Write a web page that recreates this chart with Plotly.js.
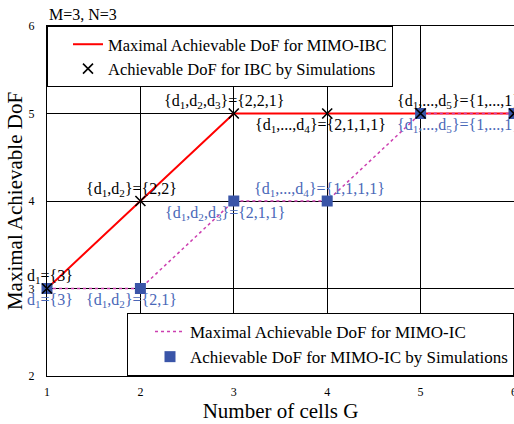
<!DOCTYPE html>
<html><head><meta charset="utf-8">
<script src="https://cdn.plot.ly/plotly-3.0.1.min.js"></script>
<style>body{margin:0;padding:0;background:#fff}#chart{width:514px;height:424px}</style>
</head><body><div id="chart"></div>
<script>
const cells = [1, 2, 3, 4, 5, 6];
const ibcMax = [3, 4, 5, 5, 5, 5];
const ibcSim = [3, 4, 5, 5, 5, 5];
const icMax = [3, 3, 4, 4, 5, 5];
const icSim = [3, 3, 4, 4, 5, 5];
const ibcLabels = ['d<sub>1</sub>={3}', '{d<sub>1</sub>,d<sub>2</sub>}={2,2}', '{d<sub>1</sub>,d<sub>2</sub>,d<sub>3</sub>}={2,2,1}', '{d<sub>1</sub>,...,d<sub>4</sub>}={2,1,1,1}', '{d<sub>1</sub>,...,d<sub>5</sub>}={1,...,1}', ''];
const icLabels = ['d<sub>1</sub>={3}', '{d<sub>1</sub>,d<sub>2</sub>}={2,1}', '{d<sub>1</sub>,d<sub>2</sub>,d<sub>3</sub>}={2,1,1}', '{d<sub>1</sub>,...,d<sub>4</sub>}={1,1,1,1}', '{d<sub>1</sub>,...,d<sub>5</sub>}={1,...,1}', ''];

const F = '"Liberation Serif", "Times New Roman", serif';
const blue = '#3a55a8';
const blueText = '#4a68b8';

const traces = [
  {x: cells, y: ibcMax, mode: 'lines', name: 'Maximal Achievable DoF for MIMO-IBC',
   line: {color: '#ff0000', width: 2}, legend: 'legend', cliponaxis: false},
  {x: cells, y: icMax, mode: 'lines', name: 'Maximal Achievable DoF for MIMO-IC',
   line: {color: '#cc3fb0', width: 1.5, dash: 'dot'}, legend: 'legend2', cliponaxis: false},
  {x: cells, y: icSim, mode: 'markers', name: 'Achievable DoF for MIMO-IC by Simulations',
   marker: {symbol: 'square', size: 11, color: blue}, legend: 'legend2', cliponaxis: false},
  {x: cells, y: ibcSim, mode: 'markers', name: 'Achievable DoF for IBC by Simulations',
   marker: {symbol: 'x-thin', size: 10, line: {color: '#000', width: 1.6}, color: '#000'}, legend: 'legend', cliponaxis: false}
];

// label placement: [xshift, above?, anchorLeft?]
const ibcPlace = [[3, 1, 0], [-9, 1, 0], [-9, 1, 0], [-7, -1, 0], [-26, 1, 1], null];
const icPlace = [[3, -1, 0], [-9, -1, 0], [-8, -1, 0], [-8, 1, 0], [-26, -1, 1], null];

const annotations = [];
function addLabels(labels, ys, place, color) {
  labels.forEach((t, i) => {
    if (!t || !place[i]) return;
    const p = place[i];
    annotations.push({x: cells[i], y: ys[i], xref: 'x', yref: 'y', text: t, showarrow: false,
      xanchor: p[2] ? 'left' : 'center', yanchor: 'middle', xshift: p[0], yshift: p[1] * 12,
      font: {family: F, size: 16, color: color}});
  });
}
addLabels(ibcLabels, ibcSim, ibcPlace, '#000');
addLabels(icLabels, icSim, icPlace, blueText);
annotations.push({xref: 'paper', yref: 'paper', x: 0, y: 1, xanchor: 'left', yanchor: 'bottom',
  yshift: 1, text: 'M=3, N=3', showarrow: false, font: {family: F, size: 16, color: '#000'}});

const layout = {
  width: 514, height: 424,
  margin: {l: 47, r: 0, t: 26, b: 48},
  paper_bgcolor: '#fff', plot_bgcolor: '#fff',
  font: {family: F, color: '#000'},
  xaxis: {range: [1, 6], dtick: 1, tick0: 1, showgrid: true, gridcolor: '#000', gridwidth: 1,
    zeroline: false, showline: true, linecolor: '#000', mirror: true, ticks: '',
    ticklabeloverflow: 'allow', ticklabelstandoff: 5,
    tickfont: {family: F, size: 12}, title: {text: 'Number of cells G', font: {family: F, size: 21}, standoff: 4}},
  yaxis: {range: [2, 6], dtick: 1, showgrid: true, gridcolor: '#000', gridwidth: 1,
    zeroline: false, showline: true, linecolor: '#000', mirror: true, ticks: '',
    ticklabeloverflow: 'allow', ticklabelstandoff: 9,
    tickfont: {family: F, size: 12}, title: {text: 'Maximal Achievable DoF', font: {family: F, size: 21}, standoff: 0}},
  legend: {x: 0, y: 1, xanchor: 'left', yanchor: 'top', bgcolor: '#fff', bordercolor: '#000', borderwidth: 1,
    font: {family: F, size: 16.5}, tracegroupgap: 0, indentation: 20},
  legend2: {x: 1, y: 0, xanchor: 'right', yanchor: 'bottom', bgcolor: '#fff', bordercolor: '#000', borderwidth: 1,
    font: {family: F, size: 17}, tracegroupgap: 0, indentation: 22},
  annotations: annotations,
  showlegend: true
};
Plotly.newPlot('chart', traces, layout, {displayModeBar: false, staticPlot: true});
</script></body></html>
